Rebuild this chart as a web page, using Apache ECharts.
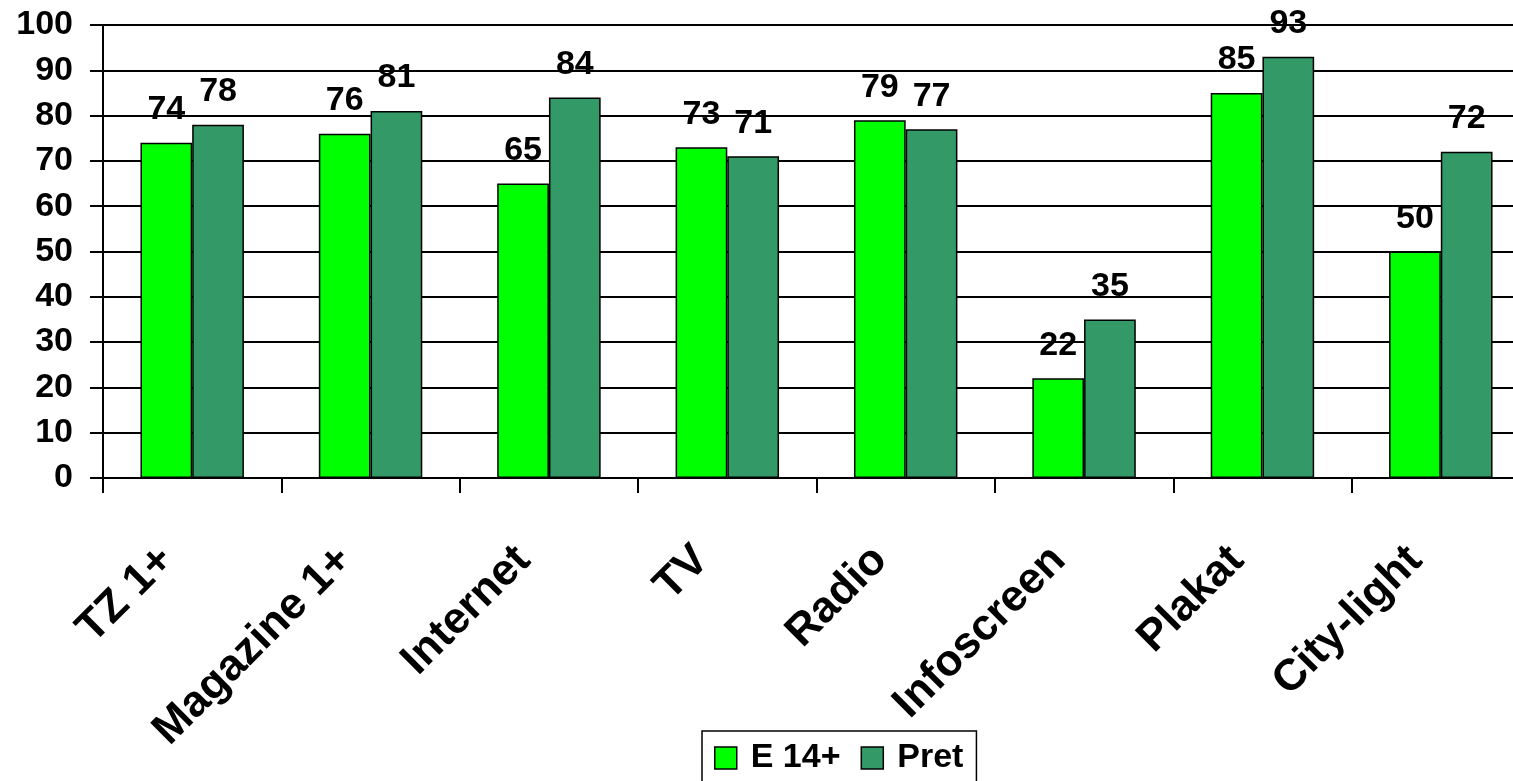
<!DOCTYPE html>
<html>
<head>
<meta charset="utf-8">
<script src="https://cdn.jsdelivr.net/npm/echarts@6/dist/echarts.min.js"></script>
<style>
  html, body { margin: 0; padding: 0; background: #fff; overflow: hidden; }
  #chart { width: 1513px; height: 781px; }
</style>
</head>
<body>
<div id="chart"></div>
<script>
const categories = ['TZ 1+', 'Magazine 1+', 'Internet', 'TV', 'Radio', 'Infoscreen', 'Plakat', 'City-light']
const e14Data = [74, 76, 65, 73, 79, 22, 85, 50]
const pretData = [78, 81, 84, 71, 77, 35, 93, 72]
const yTicks = { min: 0, max: 100, interval: 10 }

const font = 'Arial, "Liberation Sans", sans-serif'
const chart = echarts.init(document.getElementById('chart'))

function barSeries(name, data, color) {
  return {
    name: name,
    type: 'bar',
    data: data,
    barGap: '0%',
    barCategoryGap: '42%',
    itemStyle: { color: color, borderColor: '#000', borderWidth: 1.5 },
    label: {
      show: true,
      position: 'top',
      distance: 16,
      color: '#000',
      fontFamily: font,
      fontWeight: 'bold',
      fontSize: 34
    }
  }
}

chart.setOption({
  animation: false,
  grid: {
    left: 103,
    top: 25,
    width: 1427,
    bottom: 303,
    outerBoundsMode: 'none'
  },
  legend: {
    left: 702,
    bottom: -6,
    data: ['E 14+', 'Pret'],
    icon: 'rect',
    itemWidth: 22,
    itemHeight: 22,
    itemGap: 20,
    padding: [10, 13, 12, 12],
    borderColor: '#000',
    borderWidth: 1.5,
    itemStyle: { borderColor: '#000', borderWidth: 1.5 },
    textStyle: {
      color: '#000',
      fontFamily: font,
      fontWeight: 'bold',
      fontSize: 34,
      padding: [0, 0, 0, 9]
    }
  },
  xAxis: {
    type: 'category',
    data: categories,
    axisLine: { lineStyle: { color: '#000', width: 2 } },
    axisTick: { show: true, length: 15, lineStyle: { color: '#000', width: 2 } },
    axisLabel: {
      rotate: 45,
      margin: 50,
      interval: 0,
      padding: [0, 36, 0, 0],
      color: '#000',
      fontFamily: font,
      fontWeight: 'bold',
      fontSize: 44
    }
  },
  yAxis: {
    type: 'value',
    min: yTicks.min,
    max: yTicks.max,
    interval: yTicks.interval,
    axisLine: { show: true, lineStyle: { color: '#000', width: 2 } },
    axisTick: { show: true, length: 13, lineStyle: { color: '#000', width: 2 } },
    splitLine: { lineStyle: { color: '#000', width: 2 } },
    axisLabel: {
      margin: 30,
      color: '#000',
      fontFamily: font,
      fontWeight: 'bold',
      fontSize: 34
    }
  },
  series: [
    barSeries('E 14+', e14Data, '#00ff00'),
    barSeries('Pret', pretData, '#339966')
  ]
})
</script>
</body>
</html>
